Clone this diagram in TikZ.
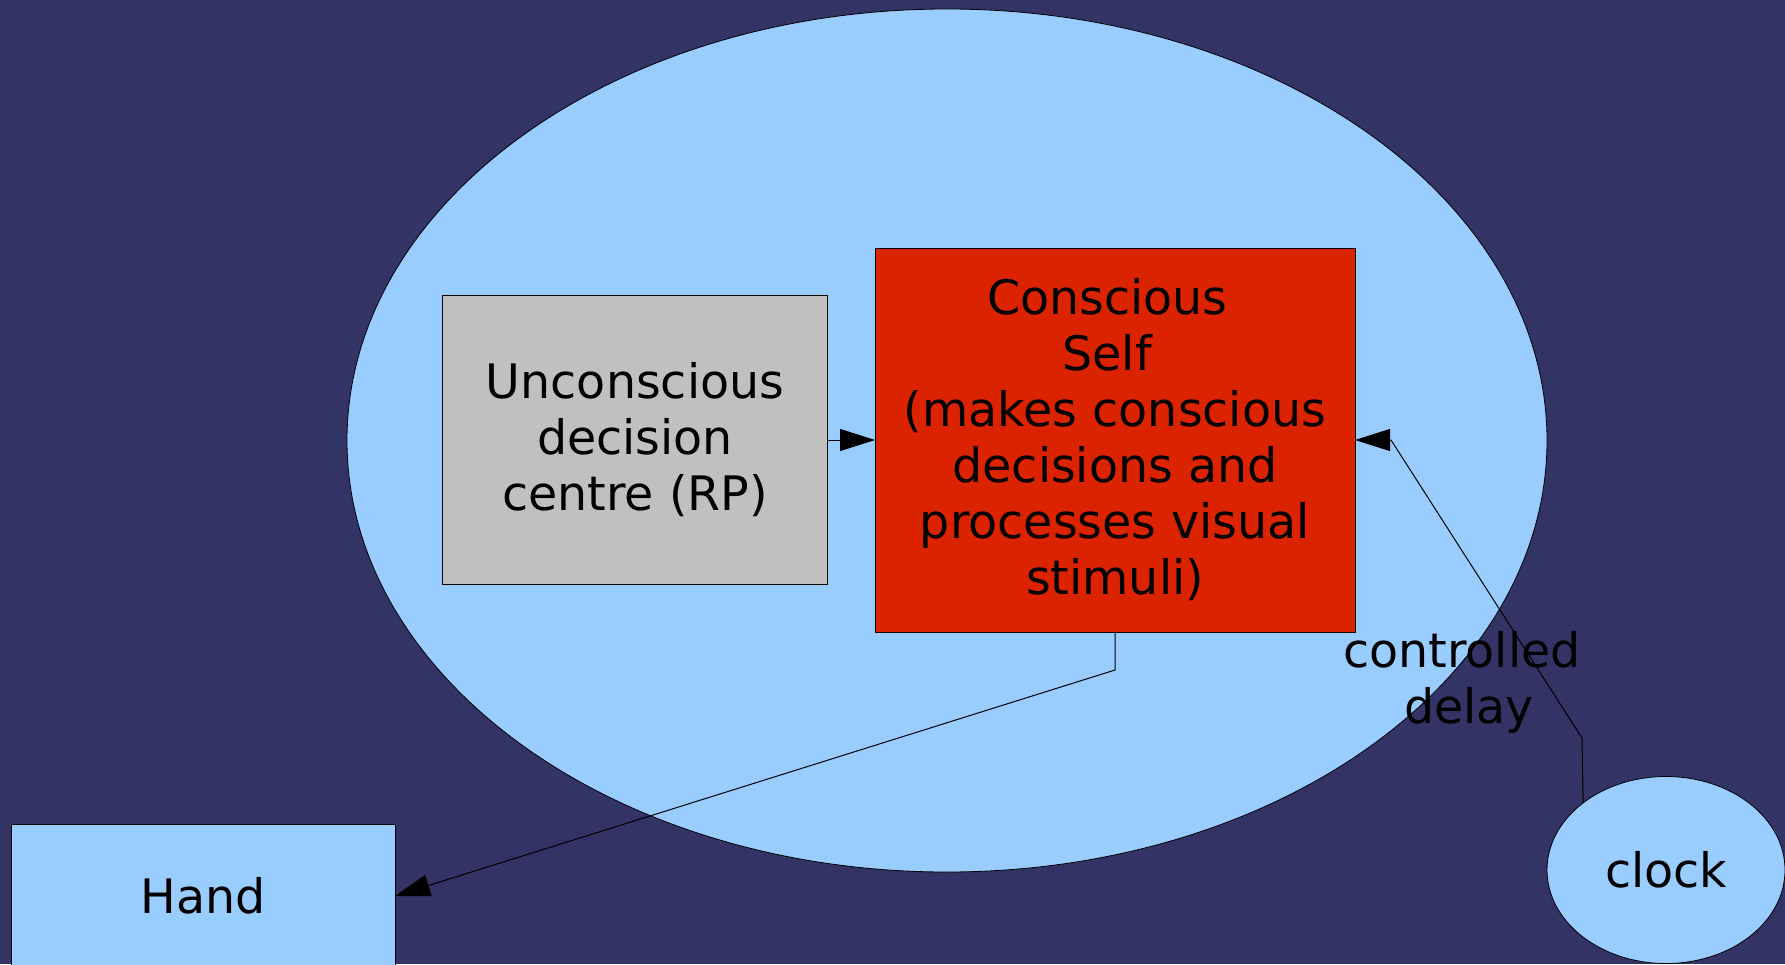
\documentclass[tikz,border=0pt]{standalone}
\usepackage{fontspec}
\setmainfont{DejaVu Sans}
\usetikzlibrary{shapes.geometric,arrows.meta}
\definecolor{bgnavy}{HTML}{333366}
\definecolor{lightblue}{HTML}{99CCFF}
\definecolor{boxgray}{HTML}{C0C0C0}
\definecolor{boxred}{HTML}{DC2300}
\tikzset{
  box/.style={draw=black, line width=1pt, rectangle, inner sep=0pt, outer sep=0pt, align=center, font=\fontsize{47.5}{56}\selectfont},
  conn/.style={draw=black, line width=1pt, -{Triangle[length=35pt,width=22pt]}},
  lbl/.style={align=center, inner sep=0pt, font=\fontsize{47.5}{56}\selectfont}
}
\begin{document}
\begin{tikzpicture}[x=1pt,y=-1pt]
\useasboundingbox (0,0) rectangle (1785,964);
\clip (0,0) rectangle (1785,964);
\fill[bgnavy] (0,0) rectangle (1785,964);
\node[ellipse, draw=black, line width=0.8pt, fill=lightblue, minimum width=1200pt, minimum height=863pt, inner sep=0pt, outer sep=0pt] (brain) at (947,440.5) {};
\node[box, fill=boxgray, minimum width=384.6pt, minimum height=288.3pt] (ucs) at (635,440) {Unconscious\\decision\\centre (RP)};
\node[box, fill=boxred, minimum width=480pt, minimum height=384pt] (self) at (1115,440) {\mbox{Conscious\hspace{0.33em}}\\\mbox{Self\hspace{0.33em}}\\(makes conscious\\decisions and\\processes visual\\stimuli)};
\node[box, fill=lightblue, minimum width=384pt, minimum height=144pt] (hand) at (203,896) {Hand};
\node[ellipse, draw=black, line width=0.8pt, fill=lightblue, minimum width=238pt, minimum height=187pt, inner sep=0pt, outer sep=0pt, font=\fontsize{47.5}{56}\selectfont] (clock) at (1666,870) {clock};
\coordinate (d1) at (1115,670);
\coordinate (c1) at (1582,738);
\coordinate (c2) at (1391,440);
\draw[conn] (ucs.east) -- (self.west);
\draw[conn] (self.south) -- (d1) -- (hand.east);
\draw[conn] (clock.141.75) -- (c1) -- (c2) -- (self.east);
\node[lbl] (delay) at (1462,682) {controlled\\\mbox{\hspace{0.3em}delay}};
\end{tikzpicture}
\end{document}
